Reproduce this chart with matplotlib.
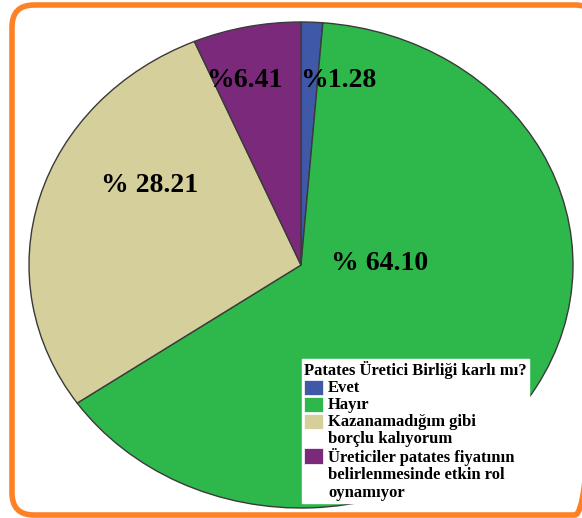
import matplotlib.pyplot as plt
from matplotlib.patches import FancyBboxPatch, Patch

# data
categories = ["Evet", "Hayır", "Kazanamadığım gibi\nborçlu kalıyorum",
              "Üreticiler patates fiyatının\nbelirlenmesinde etkin rol\noynamıyor"]
values = [1.28, 64.10, 28.21, 6.41]
value_labels = ["%1.28", "% 64.10", "% 28.21", "%6.41"]
colors = ["#3F58A8", "#2EB84B", "#D4CF9B", "#7B2A7B"]
legend_title = "Patates Üretici Birliği karlı mı?"

plt.rcParams['font.family'] = ['Liberation Serif', 'DejaVu Serif']

W, H = 582, 518
fig = plt.figure(figsize=(W / 100, H / 100), dpi=100)

# pie (stretched to an ellipse like the original)
ax = fig.add_axes([0, 0, 1, 1])
cx, cy, rx, ry = 301, 265, 272, 243
wedges, _ = ax.pie(values, colors=colors, startangle=90, counterclock=False,
                   wedgeprops=dict(edgecolor="#3a3a3a", linewidth=1.0))
ax.set_aspect('auto')
ax.set_xlim(-cx / rx, (W - cx) / rx)
ax.set_ylim(-(H - cy) / ry, cy / ry)
ax.axis('off')

# percentage labels (pixel centres converted to pie units)
label_px = [(338, 80), (380, 264), (150, 185), (244, 80)]
for txt, (px, py) in zip(value_labels, label_px):
    ax.text((px - cx) / rx, (cy - py) / ry, txt, ha='center', va='center',
            fontsize=20, fontweight='bold', color='black')

# legend
handles = [Patch(facecolor=c, edgecolor='white', linewidth=0.5) for c in colors]
leg = fig.legend(handles, categories, title=legend_title,
                 loc='upper left', bbox_to_anchor=(302 / W, 1 - 359 / H),
                 frameon=True, fancybox=False, framealpha=1,
                 prop=dict(size=12, weight='bold'),
                 title_fontproperties=dict(size=12, weight='bold'),
                 handlelength=1.15, handleheight=1.05, handletextpad=0.3,
                 labelspacing=0.06, borderpad=0.12, borderaxespad=0)
leg.get_frame().set_edgecolor('white')
leg._legend_box.align = "left"
for col in leg._legend_handle_box.get_children():
    for item in col.get_children():
        item.align = "top"
for t in leg.get_texts():
    t.set_linespacing(1.1)

# orange rounded border
ov = fig.add_axes([0, 0, 1, 1], facecolor='none')
ov.set_xlim(0, W)
ov.set_ylim(H, 0)
ov.axis('off')
border = FancyBboxPatch((12, 5), 585, 510, boxstyle="round,pad=0,rounding_size=22",
                        fill=False, edgecolor='#FF8126', linewidth=4)
ov.add_patch(border)

fig.savefig("out.png", dpi=100)
